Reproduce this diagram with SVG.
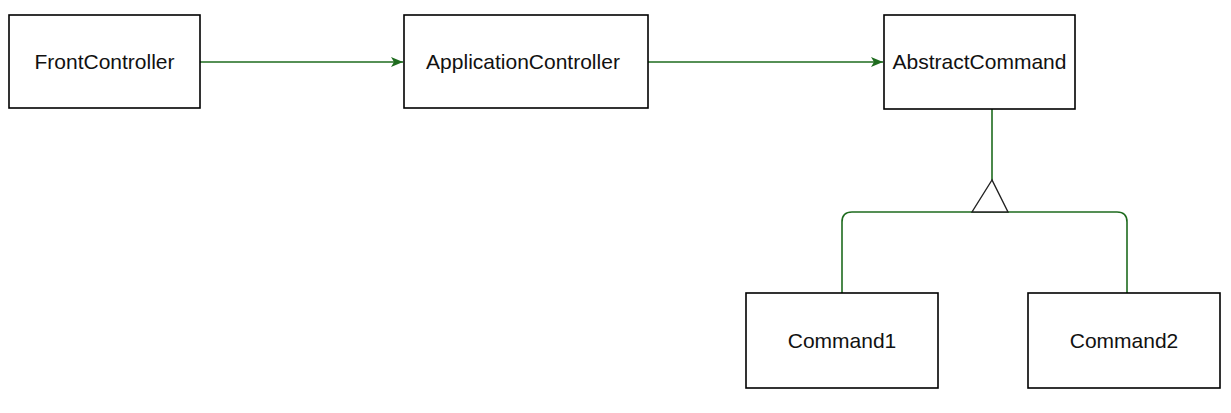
<svg xmlns="http://www.w3.org/2000/svg" width="1231" height="413" viewBox="0 0 1231 413">
<style>
.box{fill:#fff;stroke:#000;stroke-width:1.6}
.lbl{font-family:"Liberation Sans",Arial,sans-serif;font-size:21px;fill:#111;text-anchor:middle}
.con{fill:none;stroke:#1e6b1e;stroke-width:1.6}
</style>
<defs>
<marker id="arr" viewBox="0 0 12 12" refX="12" refY="6" markerWidth="12" markerHeight="12" markerUnits="userSpaceOnUse" orient="auto">
<path d="M0,1 L12,6 L0,11 L3,6 Z" fill="#1e6b1e"/>
</marker>
</defs>
<g id="connectors">
<line class="con" x1="200" y1="62" x2="403" y2="62" marker-end="url(#arr)"/>
<line class="con" x1="648" y1="62" x2="883" y2="62" marker-end="url(#arr)"/>
<line class="con" x1="992" y1="109" x2="992" y2="180"/>
<path class="con" d="M842 293 V222 Q842 212 852 212 H1117 Q1127 212 1127 222 V293"/>
<polygon points="992,180 972,212 1008,212" fill="#fff" stroke="#222" stroke-width="1.4"/>
</g>
<g id="FrontController">
<rect class="box" x="9" y="15" width="191" height="93"/>
<text class="lbl" x="104.5" y="69">FrontController</text>
</g>
<g id="ApplicationController">
<rect class="box" x="404" y="15" width="244" height="93"/>
<text class="lbl" x="523" y="69">ApplicationController</text>
</g>
<g id="AbstractCommand">
<rect class="box" x="884" y="15" width="191" height="94"/>
<text class="lbl" x="979.5" y="69">AbstractCommand</text>
</g>
<g id="Command1">
<rect class="box" x="746" y="293" width="192" height="95"/>
<text class="lbl" x="842" y="348">Command1</text>
</g>
<g id="Command2">
<rect class="box" x="1028" y="293" width="192" height="95"/>
<text class="lbl" x="1124" y="348">Command2</text>
</g>
</svg>
